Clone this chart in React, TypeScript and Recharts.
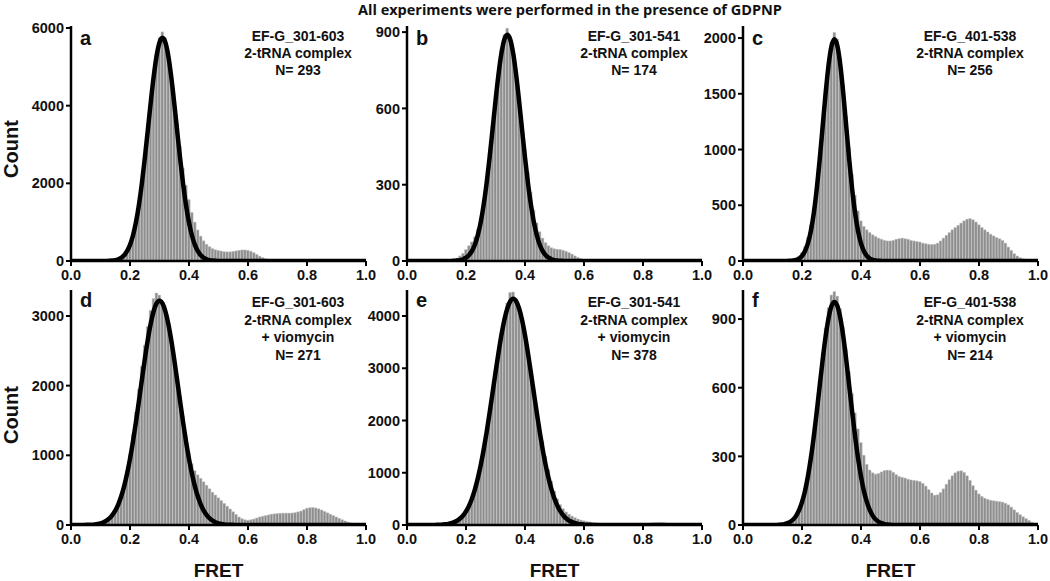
import React from "react";
import { ComposedChart, Bar, Line, XAxis, YAxis } from "recharts";

// FRET bin positions (category axis)
const fretBins = [
  0, 0.01, 0.02, 0.03, 0.04, 0.05, 0.06, 0.07, 0.08, 0.09,
  0.1, 0.11, 0.12, 0.13, 0.14, 0.15, 0.16, 0.17, 0.18, 0.19,
  0.2, 0.21, 0.22, 0.23, 0.24, 0.25, 0.26, 0.27, 0.28, 0.29,
  0.3, 0.31, 0.32, 0.33, 0.34, 0.35, 0.36, 0.37, 0.38, 0.39,
  0.4, 0.41, 0.42, 0.43, 0.44, 0.45, 0.46, 0.47, 0.48, 0.49,
  0.5, 0.51, 0.52, 0.53, 0.54, 0.55, 0.56, 0.57, 0.58, 0.59,
  0.6, 0.61, 0.62, 0.63, 0.64, 0.65, 0.66, 0.67, 0.68, 0.69,
  0.7, 0.71, 0.72, 0.73, 0.74, 0.75, 0.76, 0.77, 0.78, 0.79,
  0.8, 0.81, 0.82, 0.83, 0.84, 0.85, 0.86, 0.87, 0.88, 0.89,
  0.9, 0.91, 0.92, 0.93, 0.94, 0.95, 0.96, 0.97, 0.98, 0.99,
  1.0,
];

const xTicks = [0, 0.2, 0.4, 0.6, 0.8, 1.0];

// Panel a
const histA = [
  0, 0, 0, 0, 0, 0, 0, 0, 0, 0,
  0, 0, 0, 0, 5, 10, 25, 50, 100, 180,
  320, 550, 900, 1350, 1900, 2550, 3250, 4000, 4700, 5300,
  5750, 5900, 5750, 5350, 4800, 4200, 3550, 2950, 2400, 1950,
  1580, 1250, 1000, 800, 640, 520, 430, 370, 320, 290,
  270, 255, 240, 235, 235, 245, 260, 275, 285, 285,
  275, 250, 215, 170, 125, 90, 60, 40, 28, 20,
  15, 12, 10, 9, 8, 7, 5, 5, 5, 5,
  5, 5, 5, 5, 5, 5, 5, 5, 5, 5,
  5, 5, 5, 5, 5, 5, 5, 5, 5, 5,
  0,
];
const fitA = [
  0, 0, 0, 0, 0, 0, 0, 0, 0, 0,
  0, 1, 2, 5, 11, 22, 44, 82, 147, 252,
  416, 656, 991, 1434, 1985, 2632, 3342, 4064, 4730, 5273,
  5626, 5750, 5626, 5273, 4730, 4064, 3342, 2632, 1985, 1434,
  991, 656, 416, 252, 147, 82, 44, 22, 11, 5,
  2, 1, 0, 0, 0, 0, 0, 0, 0, 0,
  0, 0, 0, 0, 0, 0, 0, 0, 0, 0,
  0, 0, 0, 0, 0, 0, 0, 0, 0, 0,
  0, 0, 0, 0, 0, 0, 0, 0, 0, 0,
  0, 0, 0, 0, 0, 0, 0, 0, 0, 0,
  0,
];

// Panel b
const histB = [
  0, 0, 0, 0, 0, 0, 0, 0, 0, 0,
  0, 0, 0, 0, 3, 5, 8, 12, 20, 30,
  45, 60, 75, 95, 125, 170, 240, 320, 420, 530,
  640, 740, 830, 890, 915, 880, 820, 740, 640, 540,
  440, 350, 270, 200, 150, 115, 90, 72, 60, 52,
  48, 46, 45, 42, 38, 33, 27, 20, 14, 9,
  6, 4, 3, 2, 1, 1, 0, 0, 0, 0,
  0, 0, 0, 0, 0, 0, 0, 0, 0, 0,
  0, 0, 0, 0, 0, 0, 0, 0, 0, 0,
  0, 0, 0, 0, 0, 0, 0, 0, 0, 0,
  0,
];
const fitB = [
  0, 0, 0, 0, 0, 0, 0, 0, 0, 0,
  0, 0, 0, 0, 0, 0, 1, 2, 3, 7,
  13, 23, 39, 64, 102, 153, 222, 307, 407, 517,
  629, 732, 816, 871, 890, 871, 816, 732, 629, 517,
  407, 307, 222, 153, 102, 64, 39, 23, 13, 7,
  3, 2, 1, 0, 0, 0, 0, 0, 0, 0,
  0, 0, 0, 0, 0, 0, 0, 0, 0, 0,
  0, 0, 0, 0, 0, 0, 0, 0, 0, 0,
  0, 0, 0, 0, 0, 0, 0, 0, 0, 0,
  0, 0, 0, 0, 0, 0, 0, 0, 0, 0,
  0,
];

// Panel c
const histC = [
  0, 0, 0, 0, 0, 0, 0, 0, 0, 0,
  0, 0, 0, 0, 0, 0, 3, 8, 20, 40,
  75, 130, 210, 320, 470, 680, 930, 1220, 1520, 1780,
  1960, 2050, 1990, 1820, 1580, 1300, 1020, 780, 590, 450,
  360, 310, 280, 255, 235, 220, 205, 195, 185, 180,
  180, 185, 195, 200, 205, 200, 195, 185, 180, 175,
  170, 160, 155, 150, 148, 150, 160, 180, 205, 230,
  255, 280, 300, 320, 340, 360, 375, 380, 370, 350,
  325, 300, 280, 260, 240, 225, 210, 200, 185, 160,
  125, 95, 65, 45, 30, 20, 14, 10, 6, 3,
  0,
];
const fitC = [
  0, 0, 0, 0, 0, 0, 0, 0, 0, 0,
  0, 0, 0, 0, 0, 1, 2, 4, 10, 22,
  45, 87, 158, 269, 430, 646, 911, 1207, 1502, 1756,
  1929, 1990, 1929, 1756, 1502, 1207, 911, 646, 430, 269,
  158, 87, 45, 22, 10, 4, 2, 1, 0, 0,
  0, 0, 0, 0, 0, 0, 0, 0, 0, 0,
  0, 0, 0, 0, 0, 0, 0, 0, 0, 0,
  0, 0, 0, 0, 0, 0, 0, 0, 0, 0,
  0, 0, 0, 0, 0, 0, 0, 0, 0, 0,
  0, 0, 0, 0, 0, 0, 0, 0, 0, 0,
  0,
];

// Panel d
const histD = [
  0, 0, 0, 0, 0, 0, 0, 0, 5, 10,
  18, 30, 50, 80, 125, 185, 270, 390, 560, 770,
  1010, 1300, 1620, 1950, 2280, 2580, 2850, 3080, 3250, 3330,
  3300, 3200, 3060, 2880, 2650, 2400, 2130, 1850, 1560, 1280,
  1040, 880, 780, 720, 670, 620, 570, 520, 470, 430,
  390, 350, 310, 270, 230, 190, 150, 115, 90, 75,
  70, 75, 85, 100, 115, 125, 135, 145, 155, 160,
  165, 168, 170, 170, 170, 172, 178, 188, 200, 220,
  240, 248, 250, 245, 232, 215, 195, 175, 155, 135,
  115, 95, 75, 58, 42, 30, 20, 12, 7, 3,
  0,
];
const fitD = [
  0, 0, 0, 0, 0, 2, 3, 5, 9, 15,
  24, 39, 62, 95, 141, 206, 294, 409, 555, 735,
  950, 1198, 1474, 1771, 2075, 2373, 2649, 2885, 3066, 3181,
  3220, 3181, 3066, 2885, 2649, 2373, 2075, 1771, 1474, 1198,
  950, 735, 555, 409, 294, 206, 141, 95, 62, 39,
  24, 15, 9, 5, 3, 2, 0, 0, 0, 0,
  0, 0, 0, 0, 0, 0, 0, 0, 0, 0,
  0, 0, 0, 0, 0, 0, 0, 0, 0, 0,
  0, 0, 0, 0, 0, 0, 0, 0, 0, 0,
  0, 0, 0, 0, 0, 0, 0, 0, 0, 0,
  0,
];

// Panel e
const histE = [
  0, 0, 0, 0, 0, 0, 0, 0, 0, 0,
  0, 0, 5, 10, 18, 30, 50, 80, 120, 175,
  250, 350, 480, 650, 860, 1110, 1410, 1750, 2120, 2520,
  2920, 3320, 3680, 3980, 4250, 4450, 4460, 4330, 4150, 3920,
  3650, 3330, 2980, 2620, 2260, 1920, 1610, 1320, 1060, 840,
  650, 500, 390, 310, 250, 205, 170, 140, 115, 95,
  80, 68, 58, 50, 44, 38, 33, 28, 24, 20,
  17, 15, 13, 12, 11, 10, 10, 10, 12, 14,
  18, 24, 32, 40, 46, 50, 50, 46, 38, 28,
  20, 14, 10, 7, 5, 4, 3, 2, 1, 1,
  0,
];
const fitE = [
  0, 0, 0, 0, 0, 0, 0, 0, 0, 0,
  3, 4, 8, 13, 21, 34, 54, 82, 124, 182,
  261, 367, 504, 678, 892, 1148, 1445, 1780, 2145, 2529,
  2917, 3291, 3633, 3923, 4144, 4283, 4330, 4283, 4144, 3923,
  3633, 3291, 2917, 2529, 2145, 1780, 1445, 1148, 892, 678,
  504, 367, 261, 182, 124, 82, 54, 34, 21, 13,
  8, 4, 3, 2, 1, 0, 0, 0, 0, 0,
  0, 0, 0, 0, 0, 0, 0, 0, 0, 0,
  0, 0, 0, 0, 0, 0, 0, 0, 0, 0,
  0, 0, 0, 0, 0, 0, 0, 0, 0, 0,
  0,
];

// Panel f
const histF = [
  0, 0, 0, 0, 0, 0, 0, 0, 0, 0,
  0, 0, 0, 3, 5, 9, 15, 25, 42, 68,
  105, 155, 220, 300, 400, 510, 630, 750, 860, 950,
  1005, 1020, 1000, 945, 865, 770, 670, 575, 490, 420,
  360, 305, 265, 240, 228, 222, 225, 232, 238, 240,
  238, 230, 220, 212, 208, 205, 200, 197, 195, 193,
  190, 182, 170, 155, 140, 130, 132, 142, 158, 178,
  198, 215, 228, 235, 237, 230, 215, 195, 172, 152,
  136, 125, 117, 112, 108, 106, 104, 102, 100, 95,
  88, 78, 66, 55, 45, 36, 28, 20, 12, 6,
  0,
];
const fitF = [
  0, 0, 0, 0, 0, 0, 0, 0, 0, 0,
  0, 0, 1, 2, 4, 8, 14, 24, 40, 65,
  100, 148, 212, 292, 387, 495, 609, 721, 823, 904,
  957, 975, 957, 904, 823, 721, 609, 495, 387, 292,
  212, 148, 100, 65, 40, 24, 14, 8, 4, 2,
  1, 0, 0, 0, 0, 0, 0, 0, 0, 0,
  0, 0, 0, 0, 0, 0, 0, 0, 0, 0,
  0, 0, 0, 0, 0, 0, 0, 0, 0, 0,
  0, 0, 0, 0, 0, 0, 0, 0, 0, 0,
  0, 0, 0, 0, 0, 0, 0, 0, 0, 0,
  0,
];

const title = "All experiments were performed in the presence of GDPNP";
const panelLetters = ["a", "b", "c", "d", "e", "f"];
const panelLabels = [
  ["EF-G_301-603", "2-tRNA complex", "N= 293"],
  ["EF-G_301-541", "2-tRNA complex", "N= 174"],
  ["EF-G_401-538", "2-tRNA complex", "N= 256"],
  ["EF-G_301-603", "2-tRNA complex", "+ viomycin", "N= 271"],
  ["EF-G_301-541", "2-tRNA complex", "+ viomycin", "N= 378"],
  ["EF-G_401-538", "2-tRNA complex", "+ viomycin", "N= 214"],
];
const yTicksA = [0, 2000, 4000, 6000];
const yTicksB = [0, 300, 600, 900];
const yTicksC = [0, 500, 1000, 1500, 2000];
const yTicksD = [0, 1000, 2000, 3000];
const yTicksE = [0, 1000, 2000, 3000, 4000];
const yTicksF = [0, 300, 600, 900];

const FONT = "'Liberation Sans', Arial, Helvetica, sans-serif";
const PLOT_W = 295;
const PLOT_H = 235;
const Y_AXIS_W = 60;
const M_TOP = 10;
const M_RIGHT = 15;
const X_AXIS_H = 30;
const COL_X = [71, 407, 743];
const ROW_TOP = [26, 290];

const panels = [
  { hist: histA, fit: fitA, yMax: 6052, yTicks: yTicksA },
  { hist: histB, fit: fitB, yMax: 924, yTicks: yTicksB },
  { hist: histC, fit: fitC, yMax: 2108, yTicks: yTicksC },
  { hist: histD, fit: fitD, yMax: 3373, yTicks: yTicksD },
  { hist: histE, fit: fitE, yMax: 4498, yTicks: yTicksE },
  { hist: histF, fit: fitF, yMax: 1027, yTicks: yTicksF },
];

function Panel({ hist, fit, yMax, yTicks, left, top }) {
  const data = fretBins.map((x, i) => ({ x, h: hist[i], f: fit[i] }));
  return (
    <div style={{ position: "absolute", left: left - Y_AXIS_W, top: top - M_TOP }}>
      <ComposedChart
        width={Y_AXIS_W + PLOT_W + M_RIGHT}
        height={M_TOP + PLOT_H + X_AXIS_H}
        data={data}
        margin={{ top: M_TOP, right: M_RIGHT, bottom: 0, left: 0 }}
        barCategoryGap={0}
        barGap={0}
      >
        <XAxis
          dataKey="x"
          type="number"
          domain={[0, 1]}
          ticks={xTicks}
          interval={0}
          allowDataOverflow
          height={X_AXIS_H}
          tickFormatter={(v) => Number(v).toFixed(1)}
          axisLine={{ stroke: "#000", strokeWidth: 2.5 }}
          tickLine={{ stroke: "#000", strokeWidth: 2 }}
          tickSize={5}
          tickMargin={4}
          tick={{ fill: "#111", fontSize: 14.5, fontWeight: 700, fontFamily: FONT }}
        />
        <YAxis
          type="number"
          domain={[0, yMax]}
          ticks={yTicks}
          interval={0}
          allowDataOverflow
          width={Y_AXIS_W}
          axisLine={{ stroke: "#000", strokeWidth: 2.5 }}
          tickLine={{ stroke: "#000", strokeWidth: 2 }}
          tickSize={5}
          tickMargin={2}
          tick={{ fill: "#111", fontSize: 14.5, fontWeight: 700, fontFamily: FONT }}
        />
        <Bar
          dataKey="h"
          fill="#8e8e8e"
          stroke="#c4c4c4"
          strokeWidth={0.5}
          barSize={3}
          isAnimationActive={false}
        />
        <Line
          dataKey="f"
          type="monotone"
          stroke="#000"
          strokeWidth={4.5}
          dot={false}
          activeDot={false}
          isAnimationActive={false}
        />
      </ComposedChart>
    </div>
  );
}

export default function App() {
  return (
    <div
      style={{
        position: "absolute",
        left: 0,
        top: 0,
        width: 1050,
        height: 581,
        background: "#fff",
        overflow: "hidden",
      }}
    >
      {panels.map((p, k) => (
        <Panel
          key={k}
          hist={p.hist}
          fit={p.fit}
          yMax={p.yMax}
          yTicks={p.yTicks}
          left={COL_X[k % 3]}
          top={ROW_TOP[Math.floor(k / 3)]}
        />
      ))}
      <svg
        width={1050}
        height={581}
        style={{ position: "absolute", left: 0, top: 0, pointerEvents: "none" }}
      >
        <text
          x={570}
          y={15}
          textAnchor="middle"
          fontFamily="'Open Sans', sans-serif"
          fontWeight={700}
          fontSize={14.5}
          fill="#111"
        >
          {title}
        </text>
        {[0, 1].map((r) => (
          <text
            key={"count" + r}
            transform={`translate(18, ${r === 0 ? 149 : 415}) rotate(-90)`}
            textAnchor="middle"
            fontFamily={FONT}
            fontWeight={700}
            fontSize={20}
            fill="#111"
          >
            Count
          </text>
        ))}
        {[0, 1, 2].map((c) => (
          <text
            key={"fret" + c}
            x={COL_X[c] + PLOT_W / 2}
            y={577}
            textAnchor="middle"
            fontFamily={FONT}
            fontWeight={700}
            fontSize={19}
            fill="#111"
          >
            FRET
          </text>
        ))}
        {panelLetters.map((L, k) => {
          const c = k % 3;
          const r = Math.floor(k / 3);
          return (
            <text
              key={"L" + k}
              x={COL_X[c] + 9}
              y={r === 0 ? 45 : 307}
              fontFamily={FONT}
              fontWeight={700}
              fontSize={20}
              fill="#111"
            >
              {L}
            </text>
          );
        })}
        {panelLabels.map((lines, k) => {
          const c = k % 3;
          const r = Math.floor(k / 3);
          const base = r === 0 ? 41.3 : 307;
          const step = r === 0 ? 16.7 : 17.7;
          return lines.map((t, j) => (
            <text
              key={"A" + k + "_" + j}
              x={COL_X[c] + 227}
              y={base + j * step}
              textAnchor="middle"
              fontFamily={FONT}
              fontWeight={700}
              fontSize={14}
              fill="#111"
            >
              {t}
            </text>
          ));
        })}
      </svg>
    </div>
  );
}
